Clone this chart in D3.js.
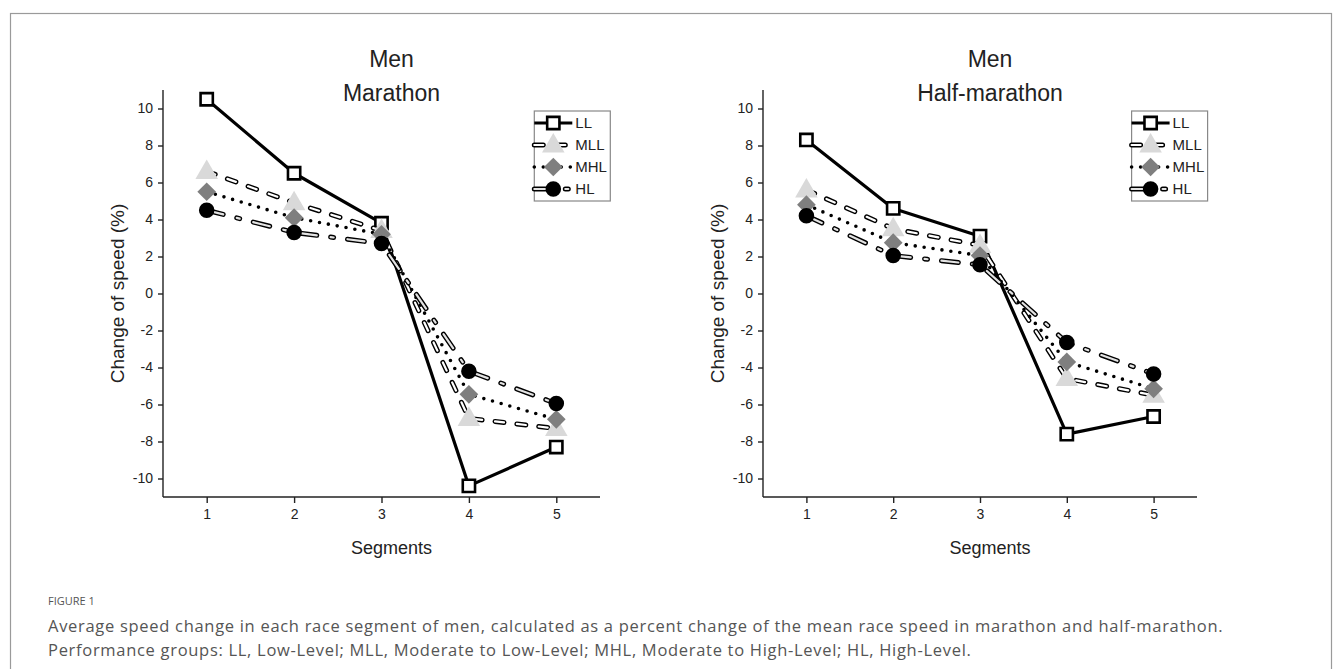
<!DOCTYPE html>
<html>
<head>
<meta charset="utf-8">
<script src="https://cdn.jsdelivr.net/npm/d3@7"></script>
<style>
  body { margin: 0; background: #fff; }
  svg { display: block; }
  .axis text { font-family: "Liberation Sans", Arial, sans-serif; font-size: 14px; fill: #222; }
  .axis path, .axis line { stroke: #222; stroke-width: 1.4; }
  .lbl { font-family: "Liberation Sans", Arial, sans-serif; fill: #222; }
  .cap { font-family: "Open Sans", "Noto Sans", sans-serif; fill: #555; }
</style>
</head>
<body>
<div id="chart"></div>
<script>
const segments = [1, 2, 3, 4, 5];
const groups = ["LL", "MLL", "MHL", "HL"];
const yTicks = [-10, -8, -6, -4, -2, 0, 2, 4, 6, 8, 10];

// marathon, men
const marLL = [10.5, 6.5, 3.8, -10.4, -8.3];
const marMLL = [6.6, 4.9, 3.4, -6.75, -7.3];
const marMHL = [5.5, 4.1, 3.2, -5.45, -6.8];
const marHL = [4.5, 3.3, 2.7, -4.2, -5.95];

// half-marathon, men
const halfLL = [8.3, 4.6, 3.1, -7.6, -6.65];
const halfMLL = [5.6, 3.5, 2.6, -4.6, -5.5];
const halfMHL = [4.8, 2.75, 2.05, -3.7, -5.15];
const halfHL = [4.2, 2.05, 1.55, -2.65, -4.35];

const panels = [
  { title: ["Men", "Marathon"], series: [marLL, marMLL, marMHL, marHL], left: 163, right: 600 },
  { title: ["Men", "Half-marathon"], series: [halfLL, halfMLL, halfMHL, halfHL], left: 763, right: 1197 },
];

const W = 1335, H = 669;
const plotTop = 90, plotBottom = 497;

const svg = d3.select("#chart").append("svg").attr("width", W).attr("height", H);

svg.append("rect").attr("x", 10.5).attr("y", 13.5).attr("width", 1321).attr("height", 720)
  .attr("fill", "none").attr("stroke", "#9a9a9a").attr("stroke-width", 1.2);

// line styles per group
const styles = {
  LL: [{ stroke: "#000", width: 3.2, dash: null, cap: "butt" }],
  MLL: [
    { stroke: "#000", width: 5, dash: "9 13", cap: "round" },
    { stroke: "#fff", width: 2.2, dash: "9 13", cap: "round" },
  ],
  MHL: [{ stroke: "#000", width: 3.6, dash: "0 9", cap: "round" }],
  HL: [
    { stroke: "#000", width: 5, dash: "17 14 3 14", cap: "round" },
    { stroke: "#e3e3e3", width: 2.2, dash: "17 14 3 14", cap: "round" },
  ],
};

function drawMarker(g, group, x, y) {
  if (group === "LL") {
    g.append("path").attr("d", d3.symbol(d3.symbolSquare, 150)())
      .attr("transform", `translate(${x},${y})`)
      .attr("fill", "#fff").attr("stroke", "#000").attr("stroke-width", 2.6);
  } else if (group === "MLL") {
    g.append("path").attr("d", d3.symbol(d3.symbolTriangle, 220)())
      .attr("transform", `translate(${x},${y + 1})`)
      .attr("fill", "#d9d9d9");
  } else if (group === "MHL") {
    g.append("path").attr("d", d3.symbol(d3.symbolSquare, 175)())
      .attr("transform", `translate(${x},${y}) rotate(45)`)
      .attr("fill", "#7f7f7f");
  } else {
    g.append("path").attr("d", d3.symbol(d3.symbolCircle, 190)())
      .attr("transform", `translate(${x},${y})`)
      .attr("fill", "#000");
  }
}

function strokeLine(g, group, d) {
  styles[group].forEach((s) => {
    g.append("path").attr("d", d).attr("fill", "none")
      .attr("stroke", s.stroke).attr("stroke-width", s.width)
      .attr("stroke-dasharray", s.dash).attr("stroke-linecap", s.cap)
      .attr("stroke-linejoin", "round");
  });
}

panels.forEach((p) => {
  const x = d3.scaleLinear().domain([0.5, 5.5]).range([p.left, p.right]);
  const y = d3.scaleLinear().domain([-11, 11]).range([plotBottom, plotTop]);
  const g = svg.append("g");

  g.append("g").attr("class", "axis").attr("transform", `translate(0,${plotBottom})`)
    .call(d3.axisBottom(x).tickValues(segments).tickFormat(d3.format("d"))
      .tickSize(6).tickSizeOuter(0).tickPadding(6))
    .call((a) => a.select(".domain").attr("d", `M${p.left},0H${p.right}`));
  g.append("g").attr("class", "axis").attr("transform", `translate(${p.left},0)`)
    .call(d3.axisLeft(y).tickValues(yTicks).tickFormat((d) => String(d))
      .tickSize(5).tickSizeOuter(0).tickPadding(5))
    .call((a) => a.select(".domain").attr("d", `M0,${plotTop}V${plotBottom}`));

  const cx = (p.left + p.right) / 2 + 10;
  g.append("text").attr("class", "lbl").attr("x", cx).attr("y", 67)
    .attr("text-anchor", "middle").attr("font-size", 23).text(p.title[0]);
  g.append("text").attr("class", "lbl").attr("x", cx).attr("y", 101)
    .attr("text-anchor", "middle").attr("font-size", 23).text(p.title[1]);

  g.append("text").attr("class", "lbl").attr("font-size", 19)
    .attr("transform", `translate(${p.left - 46},${(plotTop + plotBottom) / 2}) rotate(-90)`)
    .attr("text-anchor", "middle").attr("dy", "0.35em").text("Change of speed (%)");
  g.append("text").attr("class", "lbl").attr("font-size", 18)
    .attr("x", cx).attr("y", 554).attr("text-anchor", "middle").text("Segments");

  const line = d3.line().x((d, i) => x(segments[i])).y((d) => y(d));
  groups.forEach((grp, k) => {
    const sg = g.append("g");
    strokeLine(sg, grp, line(p.series[k]));
    p.series[k].forEach((v, i) => drawMarker(sg, grp, x(segments[i]), y(v)));
  });

  // legend
  const lx = x(5) - 22, lw = 76, ly = 111, lh = 90;
  const leg = g.append("g");
  leg.append("rect").attr("x", lx).attr("y", ly).attr("width", lw).attr("height", lh)
    .attr("fill", "#fff").attr("stroke", "#888").attr("stroke-width", 1.2);
  groups.forEach((grp, k) => {
    const ry = ly + 12 + k * 22;
    strokeLine(leg, grp, `M${lx},${ry}H${lx + 38}`);
    drawMarker(leg, grp, lx + 19, ry);
    leg.append("text").attr("class", "lbl").attr("x", lx + 41).attr("y", ry)
      .attr("dy", "0.35em").attr("font-size", 15).text(grp);
  });
});

svg.append("text").attr("class", "cap").attr("x", 48).attr("y", 605)
  .attr("font-size", 11).attr("fill", "#666").text("FIGURE 1");
svg.append("text").attr("class", "cap").attr("x", 48).attr("y", 632).attr("font-size", 16.5)
  .attr("letter-spacing", 0.7)
  .text("Average speed change in each race segment of men, calculated as a percent change of the mean race speed in marathon and half-marathon.");
svg.append("text").attr("class", "cap").attr("x", 48).attr("y", 656).attr("font-size", 16.5)
  .attr("letter-spacing", 0.7)
  .text("Performance groups: LL, Low-Level; MLL, Moderate to Low-Level; MHL, Moderate to High-Level; HL, High-Level.");
</script>
</body>
</html>
